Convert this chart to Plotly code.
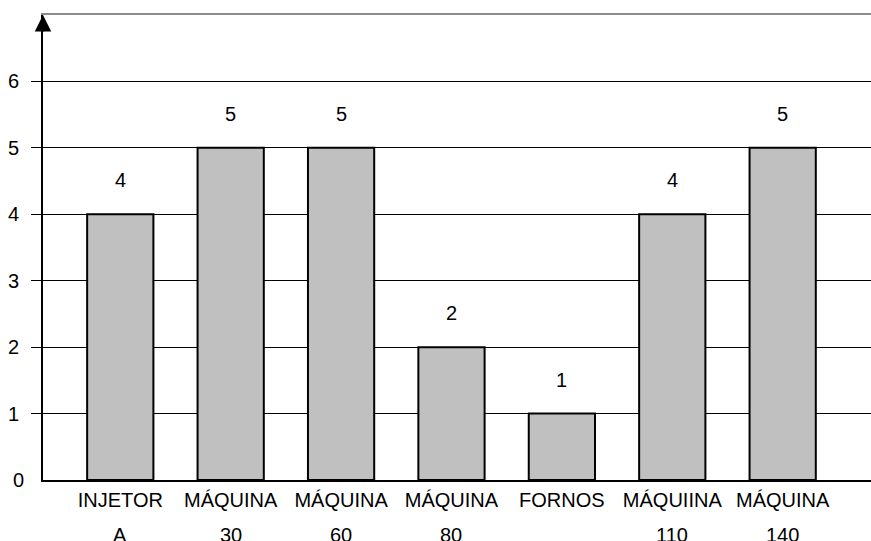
import plotly.graph_objects as go

categories = ["INJETOR A", "MÁQUINA 30", "MÁQUINA 60", "MÁQUINA 80", "FORNOS", "MÁQUIINA 110", "MÁQUINA 140"]
label_line1 = ["INJETOR", "MÁQUINA", "MÁQUINA", "MÁQUINA", "FORNOS", "MÁQUIINA", "MÁQUINA"]
label_line2 = ["A", "30", "60", "80", "", "110", "140"]
values = [4, 5, 5, 2, 1, 4, 5]
y_ticks = [1, 2, 3, 4, 5, 6]

FONT = "Liberation Sans, Arial, Helvetica, sans-serif"

fig = go.Figure()
fig.add_trace(go.Bar(
    x=categories, y=values, width=0.6,
    marker=dict(color="#c0c0c0", line=dict(color="black", width=2)),
    hoverinfo="skip",
))
# invisible helper trace so the overlay axes (top grey line and "0" label) are drawn
fig.add_trace(go.Scatter(
    x=[categories[0]], y=[0], xaxis="x2", yaxis="y2", mode="markers",
    marker=dict(opacity=0), hoverinfo="skip", showlegend=False,
))

annotations = []
for c, v in zip(categories, values):
    annotations.append(dict(x=c, y=v, xref="x", yref="y", text=str(v), showarrow=False,
                            yshift=34, yanchor="middle", font=dict(size=20, color="black", family=FONT)))
for c, t in zip(categories, label_line2):
    if t:
        annotations.append(dict(x=c, y=0, xref="x", yref="y", text=t, showarrow=False,
                                yshift=-55, yanchor="middle", font=dict(size=20, color="black", family=FONT)))
# arrow head on top of y axis
annotations.append(dict(x=0, y=7, xref="paper", yref="y", ax=0, ay=18, axref="pixel", ayref="pixel",
                        text="", showarrow=True, arrowhead=2, arrowsize=1.5, arrowwidth=2.2,
                        arrowcolor="black", standoff=0))

fig.update_layout(
    width=871, height=541,
    margin=dict(l=43, r=0, t=15, b=61),
    paper_bgcolor="white", plot_bgcolor="white",
    font=dict(family=FONT, size=20, color="black"),
    showlegend=False,
    bargap=0.4,
    xaxis=dict(
        range=[-0.7, 6.8], tickmode="array", tickvals=categories, ticktext=label_line1,
        showgrid=False, ticks="", showline=True, linecolor="black", linewidth=2,
        tickfont=dict(size=20, family=FONT, color="black"), ticklabelstandoff=1,
        zeroline=False, fixedrange=True,
    ),
    xaxis2=dict(
        overlaying="x", anchor="y2", side="top", range=[-0.7, 6.8],
        tickmode="array", tickvals=categories, showticklabels=False, ticks="",
        showgrid=False, showline=True, linecolor="#8c8c8c", linewidth=1.5, zeroline=False,
    ),
    yaxis=dict(
        range=[0, 7], tickmode="array", tickvals=y_ticks, ticktext=[str(t) for t in y_ticks],
        showgrid=True, gridcolor="black", gridwidth=1,
        ticks="outside", ticklen=10, tickcolor="black", tickwidth=1,
        showline=True, linecolor="black", linewidth=2, zeroline=False,
        tickfont=dict(size=20, family=FONT, color="black"), ticklabelstandoff=8,
    ),
    yaxis2=dict(
        overlaying="y", anchor="x2", side="left", range=[0, 7], tickmode="array",
        tickvals=[0], ticktext=["0"], showgrid=False,
        ticks="", showline=False, zeroline=False,
        tickfont=dict(size=20, family=FONT, color="black"), ticklabelstandoff=18,
    ),
    annotations=annotations,
)

fig.write_html("out.html", config={"displayModeBar": False},
               post_script="document.body.style.margin='0';")
